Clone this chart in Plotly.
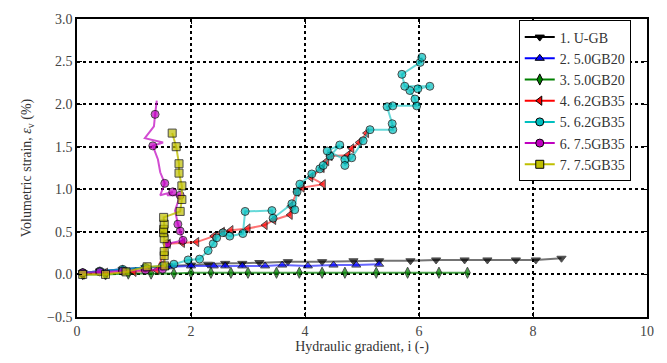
import plotly.graph_objects as go

# ---- data ----
names = ["1. U-GB", "2. 5.0GB20", "3. 5.0GB20", "4. 6.2GB35", "5. 6.2GB35", "6. 7.5GB35", "7. 7.5GB35"]

x1 = [0.1, 0.4, 0.8, 1.2, 1.6, 2.0, 2.3, 2.6, 2.9, 3.2, 3.7, 4.3, 4.85, 5.3, 5.85, 6.3, 6.8, 7.2, 7.7, 8.05, 8.5]
y1 = [0.02, 0.04, 0.06, 0.08, 0.10, 0.11, 0.12, 0.13, 0.13, 0.14, 0.15, 0.15, 0.16, 0.16, 0.16, 0.17, 0.17, 0.17, 0.17, 0.17, 0.19]

x2 = [0.1, 0.4, 0.8, 1.2, 1.6, 2.0, 2.4, 2.6, 2.9, 3.3, 3.6, 4.05, 4.5, 4.9, 5.3]
y2 = [0.02, 0.04, 0.06, 0.08, 0.09, 0.10, 0.10, 0.10, 0.10, 0.10, 0.11, 0.10, 0.11, 0.11, 0.12]

x3 = [0.1, 0.5, 0.9, 1.3, 1.7, 2.0, 2.35, 2.7, 3.0, 3.5, 3.9, 4.3, 4.7, 5.25, 5.8, 6.35, 6.85]
y3 = [0.00, 0.00, 0.01, 0.01, 0.01, 0.02, 0.02, 0.02, 0.02, 0.02, 0.02, 0.02, 0.02, 0.02, 0.02, 0.02, 0.02]

x4 = [0.1, 0.5, 1.0, 1.4, 1.6, 1.85, 2.1, 2.4, 2.55, 2.7, 3.0, 3.3, 3.45, 3.74, 3.75, 3.86, 3.95, 4.32, 4.1, 4.3, 4.38, 4.44, 4.75, 4.82, 4.95, 5.08]
y4 = [0.00, 0.02, 0.03, 0.05, 0.36, 0.37, 0.38, 0.45, 0.50, 0.52, 0.54, 0.58, 0.64, 0.70, 0.80, 0.97, 1.02, 1.06, 1.14, 1.25, 1.33, 1.39, 1.40, 1.48, 1.55, 1.66]

x5 = [0.1, 0.4, 0.8, 1.2, 1.5, 1.7, 1.95, 2.15, 2.3, 2.39, 2.45, 2.56, 2.68, 2.91, 2.95, 3.42, 3.44, 3.77, 3.82, 3.86, 3.91, 4.12, 4.26, 4.32, 4.44, 4.61, 4.39, 4.7, 4.7, 4.82, 5.02, 5.14, 5.54, 5.53, 5.44, 5.54, 5.96, 5.93, 5.84, 5.98, 6.19, 5.75, 5.70, 6.02, 6.05]
y5 = [0.02, 0.04, 0.06, 0.08, 0.10, 0.12, 0.17, 0.18, 0.28, 0.36, 0.43, 0.49, 0.45, 0.48, 0.74, 0.75, 0.66, 0.83, 0.76, 0.97, 1.06, 1.18, 1.24, 1.28, 1.39, 1.52, 1.45, 1.35, 1.28, 1.37, 1.57, 1.70, 1.70, 1.77, 1.97, 1.98, 1.98, 2.06, 2.16, 2.18, 2.21, 2.21, 2.35, 2.49, 2.55]

x6 = [0.1, 0.4, 0.8, 1.2, 1.5, 1.58, 1.86, 1.81, 1.77, 1.72, 1.81, 1.58, 1.68, 1.46, 1.54, 1.46, 1.42, 1.33, 1.51, 1.19, 1.35, 1.37, 1.40]
y6 = [0.02, 0.03, 0.04, 0.05, 0.06, 0.36, 0.40, 0.51, 0.59, 0.75, 0.93, 0.93, 0.97, 0.93, 1.07, 1.20, 1.35, 1.51, 1.55, 1.60, 1.74, 1.88, 2.04]

x7 = [0.1, 0.5, 0.86, 1.23, 1.54, 1.53, 1.53, 1.53, 1.52, 1.52, 1.53, 1.52, 1.81, 1.84, 1.84, 1.79, 1.79, 1.74, 1.67]
y7 = [0.00, 0.00, 0.03, 0.09, 0.10, 0.22, 0.27, 0.42, 0.49, 0.53, 0.59, 0.67, 0.74, 0.88, 1.04, 1.19, 1.30, 1.50, 1.66]

x_ticks = [0, 2, 4, 6, 8, 10]
y_ticks = [-0.5, 0.0, 0.5, 1.0, 1.5, 2.0, 2.5, 3.0]
y_ticklabels = ["\u22120.5", "0.0", "0.5", "1.0", "1.5", "2.0", "2.5", "3.0"]

# ---- styles ----
series = [
    (x1, y1, "rgba(0,0,0,0.55)", "black", "triangle-down", 8),
    (x2, y2, "rgba(0,0,255,0.6)", "blue", "triangle-up", 8),
    (x3, y3, "rgba(0,128,0,0.7)", "green", "diamond-tall", 8),
    (x4, y4, "rgba(255,0,0,0.55)", "red", "triangle-left", 8),
    (x5, y5, "rgba(0,191,191,0.6)", "#00bfbf", "circle", 8),
    (x6, y6, "rgba(191,0,191,0.7)", "#bf00bf", "circle", 8),
    (x7, y7, "rgba(191,191,0,0.8)", "#bfbf00", "square", 8),
]
legend_line_colors = ["black", "blue", "green", "red", "#00bfbf", "#bf00bf", "#bfbf00"]

# markers not drawn on the spikes of the magenta trace
hide_markers = {5: {9, 11, 13, 15, 16, 18, 19, 20, 22}}

fig = go.Figure()
for i, (xs, ys, lc, mc, sym, ms) in enumerate(series):
    sizes = [0 if j in hide_markers.get(i, set()) else ms for j in range(len(xs))]
    fig.add_trace(go.Scatter(
        x=xs, y=ys, name=names[i], mode="lines+markers", showlegend=False,
        line=dict(color=lc, width=2),
        marker=dict(symbol=sym, size=sizes, color=mc, line=dict(color="black", width=1)),
    ))
# legend entries (no data, style keys only)
for i, (xs, ys, lc, mc, sym, ms) in enumerate(series):
    fig.add_trace(go.Scatter(
        x=[None], y=[None], name=names[i], mode="lines+markers", legendrank=i + 1,
        line=dict(color=legend_line_colors[i], width=2),
        marker=dict(symbol=sym, size=ms, color=mc, line=dict(color="black", width=1)),
    ))

font_family = "Liberation Serif, Times New Roman, serif"
axis_common = dict(
    showline=True, linecolor="black", linewidth=1.5, mirror="ticks",
    ticks="inside", ticklen=5, tickwidth=1.2, tickcolor="black",
    showgrid=True, gridcolor="black", gridwidth=1.5, griddash="dot",
    zeroline=False, tickfont=dict(family=font_family, size=14, color="#444"),
)

fig.update_layout(
    width=667, height=363,
    margin=dict(l=77, r=20, t=14, b=46),
    plot_bgcolor="white", paper_bgcolor="white",
    font=dict(family=font_family, size=14, color="#333"),
    xaxis=dict(range=[0, 10], tickvals=x_ticks, ticktext=[str(t) for t in x_ticks],
               title=dict(text="Hydraulic gradient, i (-)", font=dict(size=14, color="#333"), standoff=2),
               **axis_common),
    yaxis=dict(range=[-0.5, 3.0], tickvals=y_ticks, ticktext=y_ticklabels,
               title=dict(text="Volumetric strain, <i>\u03b5</i><sub>v</sub> (%)", font=dict(size=14, color="#333"), standoff=12),
               **axis_common),
    legend=dict(x=0.775, y=0.995, xanchor="left", yanchor="top",
                bgcolor="white", bordercolor="black", borderwidth=1,
                font=dict(family=font_family, size=14, color="#333"),
                tracegroupgap=0, itemwidth=30, itemsizing="trace"),
    showlegend=True,
)

fig.write_html("out.html")
